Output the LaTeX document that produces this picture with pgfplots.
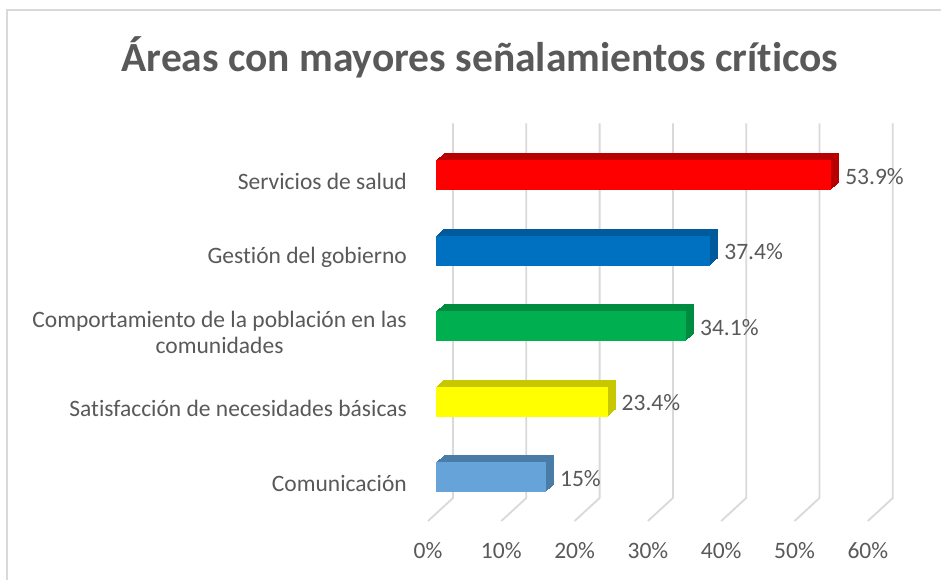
\documentclass[border=0pt]{standalone}
\usepackage{pgfplots}
\pgfplotsset{compat=1.18}
\usepackage{fontspec}
\setmainfont{Carlito}[Ligatures=NoCommon]
\definecolor{txt}{HTML}{595959}
\definecolor{gridc}{HTML}{D9D9D9}
\definecolor{frameC}{HTML}{D9D9D9}
\definecolor{redF}{HTML}{FF0000}\definecolor{redD}{HTML}{B80000}
\definecolor{bluF}{HTML}{0070C0}\definecolor{bluD}{HTML}{005A9C}
\definecolor{grnF}{HTML}{00B050}\definecolor{grnD}{HTML}{008C40}
\definecolor{yelF}{HTML}{FFFF00}\definecolor{yelD}{HTML}{C8C800}
\definecolor{comF}{HTML}{66A3D9}\definecolor{comD}{HTML}{4A7CA8}
% #1 value, #2 category index, #3 front colour, #4 depth colour
\newcommand{\onebar}[4]{%
  \pgfplotsinvokeforeach{8,7,6,5,4,3,2,1}{%
    \addplot[xbar, bar shift=0pt, bar width=30pt, draw=none, fill=#4,
      xshift=##1pt, yshift=0.875*##1pt] coordinates {(#1,#2)};
  }
  \addplot[xbar, bar shift=0pt, bar width=30pt, draw=none, fill=#3,
    point meta=x, nodes near coords={\pgfmathprintnumber{\pgfplotspointmeta}\%},
    nodes near coords align={horizontal},
    every node near coord/.style={anchor=west, inner sep=0pt, xshift=14pt, yshift=-1.5pt,
      text=txt, font=\fontsize{23.5}{28}\selectfont}] coordinates {(#1,#2)};
}
\begin{document}
\begin{tikzpicture}
\useasboundingbox (0,0) rectangle (941pt,-580pt);
\fill[white] (0,0) rectangle (941pt,-580pt);
\draw[frameC, line width=1.5pt] (7pt,-600pt) -- (7pt,-10pt) -- (960pt,-10pt);
\node[anchor=base, text=txt, font=\fontsize{41.5}{50}\selectfont\bfseries]
  at (480pt,-72pt) {Áreas con mayores señalamientos críticos};
\begin{axis}[
  at={(436pt,-514.75pt)}, anchor=south west,
  x=7.33pt, y=75.5pt, y dir=reverse,
  xmin=0, xmax=60, ymin=-0.5, ymax=4.5,
  clip=false,
  axis line style={draw=none}, major tick length=0pt,
  xtick={0,10,...,60},
  xticklabel={\pgfmathprintnumber{\tick}\%},
  ytick={0,1,2,3,4},
  yticklabels={Servicios de salud, Gestión del gobierno, {Comportamiento de la población en las\\comunidades}, Satisfacción de necesidades básicas, Comunicación},
  /pgf/number format/assume math mode=true,
  xticklabel style={inner sep=0pt, anchor=north, xshift=-8pt, yshift=-28pt, text=txt, font=\fontsize{23.5}{28}\selectfont},
  yticklabel style={inner sep=0pt, anchor=east, xshift=-29pt, yshift=-6.5pt, align=center, text=txt, font=\fontsize{23.5}{26}\selectfont},
]
\pgfplotsinvokeforeach{0,10,20,30,40,50,60}{
  \draw[gridc, line width=1.8pt] ([xshift=17pt, yshift=14pt]axis cs:#1,-0.5)
    -- ([xshift=17pt, yshift=16.75pt]axis cs:#1,4.5)
    -- ([xshift=-8pt, yshift=-6.25pt]axis cs:#1,4.5);
}
\onebar{53.9}{0}{redF}{redD}
\onebar{37.4}{1}{bluF}{bluD}
\onebar{34.1}{2}{grnF}{grnD}
\onebar{23.4}{3}{yelF}{yelD}
\onebar{15}{4}{comF}{comD}
\end{axis}
\end{tikzpicture}
\end{document}
